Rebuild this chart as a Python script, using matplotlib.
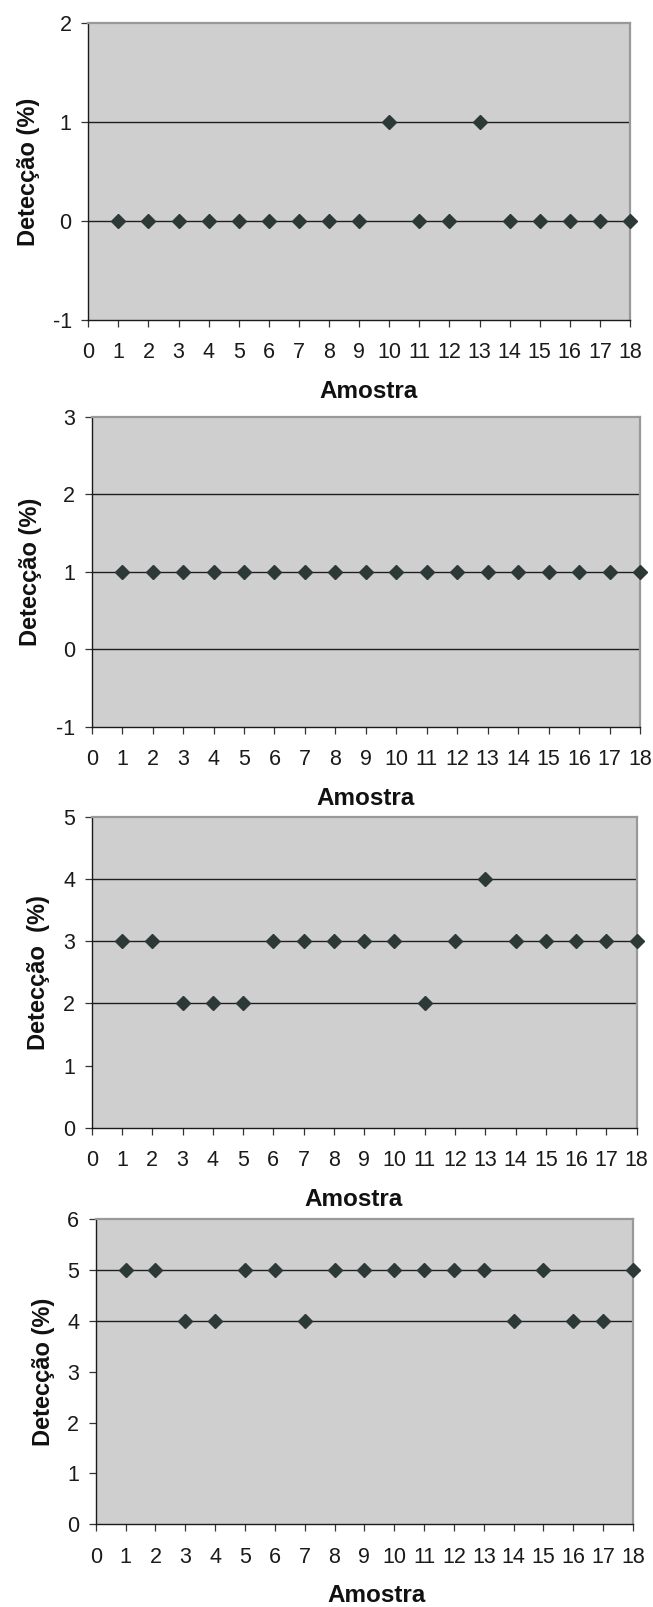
import matplotlib
matplotlib.use("Agg")
import matplotlib.pyplot as plt

plt.rcParams['font.family'] = ['Liberation Sans', 'DejaVu Sans']
plt.rcParams['axes.unicode_minus'] = False

amostras = list(range(1, 19))
deteccao_1 = [0, 0, 0, 0, 0, 0, 0, 0, 0, 1, 0, 0, 1, 0, 0, 0, 0, 0]
deteccao_2 = [1, 1, 1, 1, 1, 1, 1, 1, 1, 1, 1, 1, 1, 1, 1, 1, 1, 1]
deteccao_3 = [3, 3, 2, 2, 2, 3, 3, 3, 3, 3, 2, 3, 4, 3, 3, 3, 3, 3]
deteccao_4 = [5, 5, 4, 4, 5, 5, 4, 5, 5, 5, 5, 5, 5, 4, 5, 4, 4, 5]
y_limits = [(-1, 2), (-1, 3), (0, 5), (0, 6)]
grid_levels = [[0, 1], [0, 1, 2], [2, 3, 4], [4, 5]]
x_ticks = list(range(0, 19))
ylabels = ["Detecção (%)", "Detecção (%)", "Detecção  (%)", "Detecção (%)"]
xlabel = "Amostra"

W, H = 653, 1607
fig = plt.figure(figsize=(W / 100, H / 100), dpi=100)
fig.patch.set_facecolor('white')

# axes boxes in pixels: left, right, top, bottom
boxes = [(88.3, 630.0, 23.3, 320.0),
         (91.7, 640.0, 416.7, 726.7),
         (91.7, 636.7, 816.7, 1128.0),
         (95.8, 633.0, 1219.3, 1524.3)]
xlabel_pos = [(0.518, -0.241), (0.50, -0.233), (0.481, -0.231), (0.523, -0.232)]
ylabel_pos = [(-0.111, 0.5), (-0.111, 0.5), (-0.097, 0.5), (-0.098, 0.5)]

series = [deteccao_1, deteccao_2, deteccao_3, deteccao_4]

for i, (vals, (l, r, t, b)) in enumerate(zip(series, boxes)):
    ax = fig.add_axes([l / W, 1 - b / H, (r - l) / W, (b - t) / H])
    ax.set_facecolor('#cfcfcf')
    ax.set_axisbelow(True)
    for g in grid_levels[i]:
        ax.axhline(g, color='#1e1e1e', linewidth=1.0, zorder=1)
    ax.plot(amostras, vals, linestyle='none', marker='D', markersize=6.8,
            color='#2d3936', markeredgecolor='#2d3936', clip_on=False, zorder=4)
    ax.set_xlim(0, 18)
    lo, hi = y_limits[i]
    ax.set_ylim(lo, hi)
    ax.set_xticks(x_ticks)
    ax.set_yticks(list(range(lo, hi + 1)))
    ax.grid(False)
    for s in ['top', 'right']:
        ax.spines[s].set_color('#999999')
        ax.spines[s].set_linewidth(1.6)
    for s in ['left', 'bottom']:
        ax.spines[s].set_color('#1a1a1a')
        ax.spines[s].set_linewidth(1.0)
    ax.tick_params(axis='x', direction='out', length=5.0, width=0.9, color='#333333',
                   labelsize=15.5, pad=11, labelcolor='#1a1a1a')
    ax.tick_params(axis='y', direction='out', length=5.0, width=0.9, color='#333333',
                   labelsize=15.5, pad=7, labelcolor='#1a1a1a')
    ax.set_xlabel(xlabel, fontsize=17.5, fontweight='bold', color='#111111')
    ax.xaxis.label.set_va('center')
    ax.xaxis.set_label_coords(*xlabel_pos[i])
    ax.set_ylabel(ylabels[i], fontsize=17, fontweight='bold', color='#111111')
    ax.yaxis.label.set_va('center')
    ax.yaxis.set_label_coords(*ylabel_pos[i])

fig.savefig('out.png', dpi=100, facecolor='white')
